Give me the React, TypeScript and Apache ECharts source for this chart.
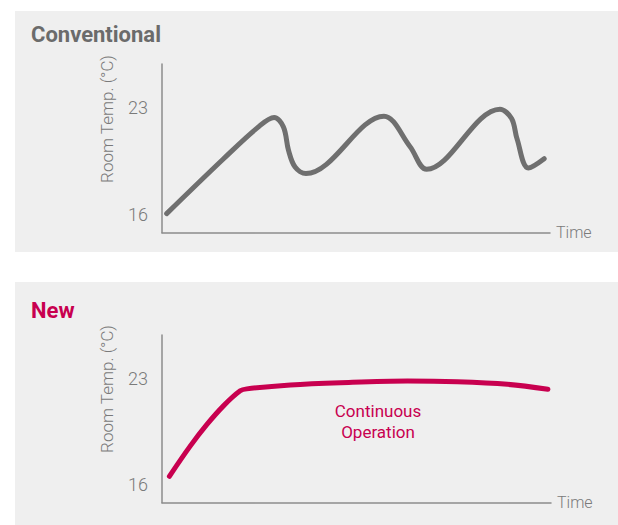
import React, { useEffect, useRef } from "react";
import * as echarts from "echarts";

const panelTitles = ["Conventional", "New"];
const yAxisName = "Room Temp. (°C)";
const xAxisName = "Time";
const yTicks = [16, 23];
const annotation = "Continuous\nOperation";

const conventionalTime = [1.2, 15.8, 24.7, 28.9, 31.3, 32.6, 34.3, 37.1, 57.2, 63.9, 68.2, 87.1, 90.1, 91.5, 94.4, 98.5];
const conventionalTemp = [16.05, 19.63, 21.7, 22.35, 21.73, 20.2, 19.1, 18.67, 22.43, 20.45, 18.95, 22.89, 22.28, 20.95, 19.04, 19.65];

const newTime = [1.9, 7.2, 11.5, 15.8, 20.1, 21.8, 33.0, 45.9, 63.1, 75.9, 88.8, 99.2];
const newTemp = [16.54, 18.51, 19.94, 21.18, 22.17, 22.3, 22.56, 22.71, 22.82, 22.77, 22.6, 22.27];

const GREY_LINE = "#6f6f6f";
const CRIMSON = "#c8004f";
const AXIS = "#8c8c8c";
const TEXT = "#7a7a7a";
const FONT = "Roboto";

const zip = (xs: number[], ys: number[]) => xs.map((x, i) => [x, ys[i]]);

export default function App() {
  const ref = useRef<HTMLDivElement>(null);
  useEffect(() => {
    if (!ref.current) return;
    const chart = echarts.init(ref.current, null, { renderer: "svg" });
    const makeX = (gridIndex: number) => ({
      type: "value",
      gridIndex,
      min: 0,
      max: 100,
      axisLine: { show: true, onZero: false, lineStyle: { color: AXIS, width: 1.5 } },
      axisTick: { show: false },
      axisLabel: { show: false },
      splitLine: { show: false },
      name: xAxisName,
      nameLocation: "end",
      nameGap: 6,
      nameTextStyle: { color: TEXT, fontSize: 16, fontFamily: FONT, fontWeight: 300 },
    });
    const makeY = (gridIndex: number) => ({
      type: "value",
      gridIndex,
      min: 14.8,
      max: 25.85,
      axisLine: { show: true, onZero: false, lineStyle: { color: AXIS, width: 1.5 } },
      axisTick: { show: false },
      splitLine: { show: false },
      axisLabel: {
        customValues: yTicks,
        color: TEXT,
        fontSize: 18,
        fontFamily: FONT,
        fontWeight: 300,
        margin: 14,
      },
    });
    const panel = (y: number, h: number) => ({
      type: "rect",
      shape: { x: 15, y, width: 603, height: h },
      style: { fill: "#efefef" },
      z: -10,
      silent: true,
    });
    const title = (text: string, y: number, color: string) => ({
      type: "text",
      x: 31,
      y,
      style: { text, fill: color, font: `bold 22px ${FONT}`, align: "left", verticalAlign: "middle" },
      z: 10,
    });
    const yName = (y: number) => ({
      type: "text",
      x: 106.7,
      y,
      rotation: Math.PI / 2,
      style: { text: yAxisName, fill: TEXT, font: `300 17px ${FONT}`, align: "center", verticalAlign: "middle" },
      z: 10,
    });
    chart.setOption({
      animation: false,
      grid: [
        { left: 162, top: 64, width: 388, height: 168.7 },
        { left: 162, top: 335, width: 389, height: 167.7 },
      ],
      xAxis: [makeX(0), makeX(1)],
      yAxis: [makeY(0), makeY(1)],
      graphic: [
        panel(11, 241),
        panel(282, 243),
        title(panelTitles[0], 34, "#6b6b6b"),
        title(panelTitles[1], 310, CRIMSON),
        yName(119),
        yName(389),
        {
          type: "text",
          x: 378,
          y: 421.3,
          style: {
            text: annotation,
            fill: CRIMSON,
            font: `17px ${FONT}`,
            lineHeight: 21,
            align: "center",
            verticalAlign: "middle",
          },
          z: 10,
        },
      ],
      series: [
        {
          type: "line",
          xAxisIndex: 0,
          yAxisIndex: 0,
          data: zip(conventionalTime, conventionalTemp),
          showSymbol: false,
          symbol: "none",
          smooth: 0.35,
          lineStyle: { width: 5, color: GREY_LINE, cap: "round", join: "round" },
        },
        {
          type: "line",
          xAxisIndex: 1,
          yAxisIndex: 1,
          data: zip(newTime, newTemp),
          showSymbol: false,
          symbol: "none",
          smooth: 0.35,
          lineStyle: { width: 5, color: CRIMSON, cap: "round", join: "round" },
        },
      ],
    });
    return () => chart.dispose();
  }, []);
  return (
    <div
      ref={ref}
      style={{ position: "fixed", left: 0, top: 0, width: 618, height: 525, background: "#ffffff" }}
    />
  );
}
